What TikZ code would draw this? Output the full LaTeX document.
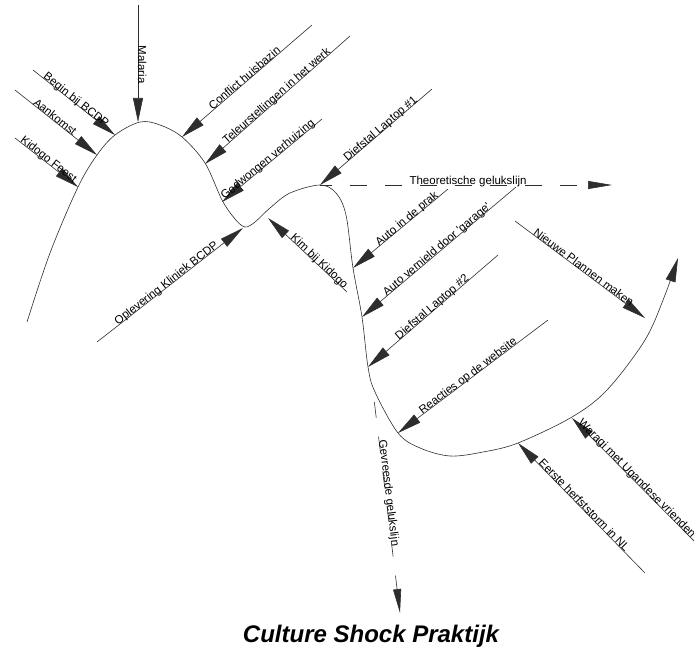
\documentclass[tikz,border=0pt]{standalone}
\usepackage{fontspec}
\setmainfont{Liberation Sans}
\usepackage{tikz}
\usetikzlibrary{arrows.meta}
\definecolor{lijngrijs}{RGB}{45, 45, 45}

\begin{document}
\begin{tikzpicture}[x=1pt, y=-1pt,
    lijn/.style={line width=0.6pt, lijngrijs},
    pijl/.style={lijn, -{Triangle[length=24pt, width=10pt]}},
    streep/.style={lijn, -{Triangle[length=24pt, width=8pt]}},
    tekst/.style={sloped, anchor=base, inner sep=0.5pt, text=black,
        font=\fontsize{11.5}{13}\selectfont}]
    \useasboundingbox (0,0) rectangle (694,650);

    % gelukscurve
    \draw[pijl] plot[smooth, tension=0.55] coordinates {
        (27,322) (50,253) (78,187) (97,155) (115,135) (140,122) (160,125)
        (182,137) (205,163) (222,200) (235,219) (245,227) (255,222)
        (270,208) (290,193) (320,185) (336,193) (346,215) (353,268)
        (362,317) (368,367) (375,392) (398,433) (420,448) (450,456)
        (483,452) (518,443) (572,417) (607,390) (645,340) (665,295) (678,258)};
    \coordinate (top) at (320,185);
    \coordinate (val) at (372,383);

    % punten op de curve en losse einden
    \coordinate (malaria-s) at (138,5);      \coordinate (malaria-t) at (138,122);
    \coordinate (begin-s) at (33,70);        \coordinate (begin-t) at (115,135);
    \coordinate (aankomst-s) at (15,90);     \coordinate (aankomst-t) at (97,155);
    \coordinate (kidogo-s) at (15,138);      \coordinate (kidogo-t) at (78,187);
    \coordinate (conflict-s) at (312,25);    \coordinate (conflict-t) at (182,137);
    \coordinate (teleur-s) at (350,36);      \coordinate (teleur-t) at (205,164);
    \coordinate (verhuis-s) at (322,119);    \coordinate (verhuis-t) at (222,202);
    \coordinate (laptopA-s) at (432,89);
    \coordinate (oplever-s) at (97,342);     \coordinate (oplever-t) at (243,228);
    \coordinate (kim-s) at (347,292);        \coordinate (kim-t) at (268,218);
    \coordinate (prak-s) at (448,189);       \coordinate (prak-t) at (353,268);
    \coordinate (garage-s) at (516,187);     \coordinate (garage-t) at (362,317);
    \coordinate (laptopB-s) at (498,255);    \coordinate (laptopB-t) at (368,367);
    \coordinate (reactie-s) at (548,320);    \coordinate (reactie-t) at (398,433);
    \coordinate (plannen-s) at (515,221);    \coordinate (plannen-t) at (645,318);
    \coordinate (herfst-s) at (645,573);     \coordinate (herfst-t) at (518,443);
    \coordinate (waragi-s) at (705,552);     \coordinate (waragi-t) at (572,418);
    \coordinate (theorie-t) at (612,185);
    \coordinate (gevreesd-t) at (400,613);

    % gebeurtenissen
    \draw[pijl] (malaria-s) -- node[tekst, pos=0.51] (malaria) {Malaria} (malaria-t);
    \draw[pijl] (begin-s) -- node[tekst, pos=0.5] (begin) {Begin bij BCDP} (begin-t);
    \draw[pijl] (aankomst-s) -- node[tekst, pos=0.46] (aankomst) {Aankomst} (aankomst-t);
    \draw[pijl] (kidogo-s) -- node[tekst, pos=0.5] (kidogo) {Kidogo Feest} (kidogo-t);
    \draw[pijl] (conflict-s) -- node[tekst, pos=0.5] (conflict) {Conflict huisbazin} (conflict-t);
    \draw[pijl] (teleur-s) -- node[tekst, pos=0.49] (teleur) {Teleurstellingen in het werk} (teleur-t);
    \draw[pijl] (verhuis-s) -- node[tekst, pos=0.52] (verhuis) {Gedwongen verhuizing} (verhuis-t);
    \draw[pijl] (laptopA-s) -- node[tekst, pos=0.44] (laptopA) {Diefstal Laptop \#1} (top);
    \draw[pijl] (oplever-s) -- node[tekst, pos=0.49] (oplever) {Oplevering Kliniek BCDP} (oplever-t);
    \draw[pijl] (kim-s) -- node[tekst, pos=0.38] (kim) {Kim bij Kidogo} (kim-t);
    \draw[pijl] (prak-s) -- node[tekst, pos=0.41] (prak) {Auto in de prak} (prak-t);
    \draw[pijl] (garage-s) -- node[tekst, pos=0.5] (garage) {Auto vernield door \textquotesingle garage\textquotesingle} (garage-t);
    \draw[pijl] (laptopB-s) -- node[tekst, pos=0.49] (laptopB) {Diefstal Laptop \#2} (laptopB-t);
    \draw[pijl] (reactie-s) -- node[tekst, pos=0.52] (reactie) {Reacties op de website} (reactie-t);
    \draw[pijl] (plannen-s) -- node[tekst, pos=0.51] (plannen) {Nieuwe Plannen maken} (plannen-t);
    \draw[pijl] (herfst-s) -- node[tekst, pos=0.5] (herfst) {Eerste herfststorm in NL} (herfst-t);
    \draw[pijl] (waragi-s) -- node[tekst, pos=0.53] (waragi) {Waragi met Ugandese vrienden} (waragi-t);

    % gelukslijnen
    \draw[streep, dash pattern=on 17pt off 18pt, dash phase=5pt] (top)
        -- node[tekst, pos=0.507] (theorie) {Theoretische gelukslijn} (theorie-t);
    \draw[streep, dash pattern=on 16pt off 19pt, dash phase=16pt] (val)
        -- node[tekst, pos=0.48] (gevreesd) {Gevreesde gelukslijn} (gevreesd-t);

    \node[anchor=base, font=\fontsize{24}{28}\selectfont\bfseries\itshape] (titel)
        at (371,642) {Culture Shock Praktijk};
\end{tikzpicture}
\end{document}
